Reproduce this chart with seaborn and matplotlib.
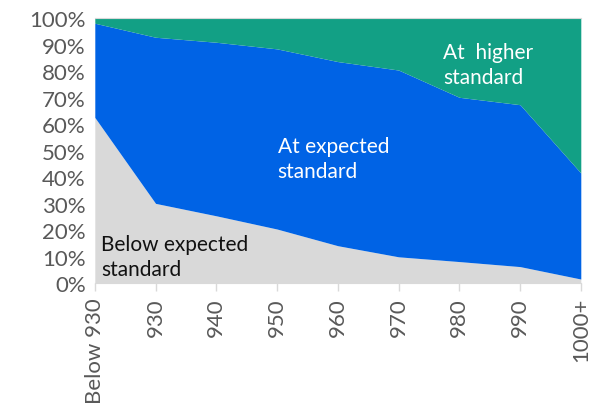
import seaborn as sns
import matplotlib.pyplot as plt
import numpy as np
import pandas as pd

categories = ["Below 930", "930", "940", "950", "960", "970", "980", "990", "1000+"]
below_expected = [62.6, 30.1, 25.4, 20.4, 14.1, 9.9, 8.1, 6.2, 1.5]
at_expected_cum = [98.2, 92.9, 91.0, 88.5, 83.7, 80.5, 70.2, 67.4, 41.6]

at_expected = [c - b for c, b in zip(at_expected_cum, below_expected)]
at_higher = [100 - c for c in at_expected_cum]

df = pd.DataFrame({"score": categories, "below": below_expected,
                   "expected": at_expected, "higher": at_higher})

sns.set_style("white")
plt.rcParams["font.family"] = ["Lato", "DejaVu Sans"]

fig = plt.figure(figsize=(6, 4.14), dpi=100)
ax = fig.add_axes([0.158, 0.314, 0.81, 0.639])

x = np.arange(len(categories))
ax.stackplot(x, df["below"], df["expected"], df["higher"],
             colors=["#D9D9D9", "#0063E5", "#12A085"], linewidth=0)

ax.set_xlim(0, len(categories) - 1)
ax.set_ylim(0, 100)
ax.set_yticks(range(0, 101, 10))
ax.set_yticklabels([f"{v}%" for v in range(0, 101, 10)], fontsize=16, color="#595959")
ax.set_xticks(x)
ax.set_xticklabels(categories, rotation=90, fontsize=16, color="#595959")
ax.tick_params(axis="x", bottom=True, length=6, width=1, color="#D9D9D9", pad=4)
ax.tick_params(axis="y", left=False, pad=3)

for side in ["left", "right"]:
    ax.spines[side].set_visible(False)
ax.spines["top"].set_color("#D9D9D9")
ax.spines["bottom"].set_color("#D9D9D9")

ax.text(0.1, 3, "Below expected\nstandard", fontsize=15, color="#111111",
        va="baseline", ha="left", linespacing=1.3)
ax.text(3.01, 40, "At expected\nstandard", fontsize=15, color="white",
        va="baseline", ha="left", linespacing=1.3)
ax.text(5.73, 75.6, "At  higher\nstandard", fontsize=15, color="white",
        va="baseline", ha="left", linespacing=1.3)

plt.savefig("out.png", dpi=100)
